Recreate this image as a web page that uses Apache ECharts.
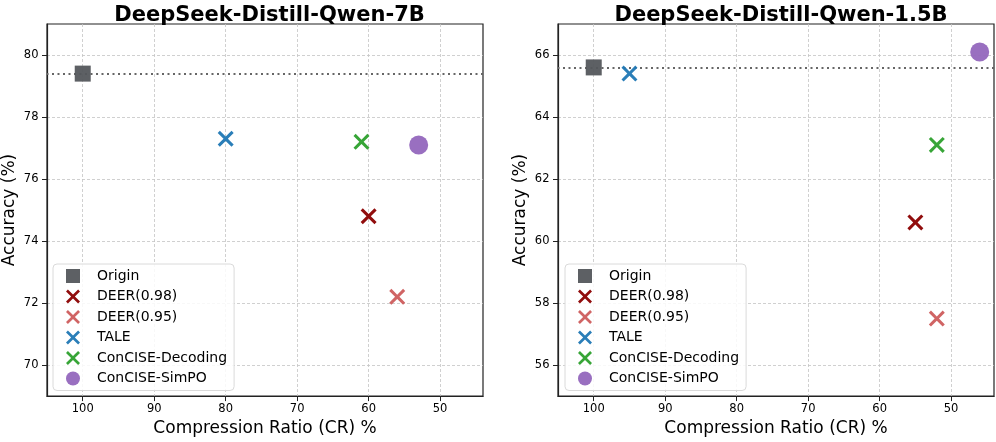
<!DOCTYPE html>
<html>
<head>
<meta charset="utf-8">
<script src="https://cdn.jsdelivr.net/npm/echarts@6/dist/echarts.min.js"></script>
<style>
html,body{margin:0;padding:0;background:#fff;}
#chart{width:996px;height:442px;}
</style>
</head>
<body>
<div id="chart"></div>
<script>
// ---- data ----
const titles = ['DeepSeek-Distill-Qwen-7B', 'DeepSeek-Distill-Qwen-1.5B'];
const methods = ['Origin', 'DEER(0.98)', 'DEER(0.95)', 'TALE', 'ConCISE-Decoding', 'ConCISE-SimPO'];
// [compression ratio %, accuracy %] per method
const data7B = {
  'Origin': [100, 79.4],
  'DEER(0.98)': [60, 74.8],
  'DEER(0.95)': [56, 72.2],
  'TALE': [80, 77.3],
  'ConCISE-Decoding': [61, 77.2],
  'ConCISE-SimPO': [53, 77.1]
};
const data15B = {
  'Origin': [100, 65.6],
  'DEER(0.98)': [55, 60.6],
  'DEER(0.95)': [52, 57.5],
  'TALE': [95, 65.4],
  'ConCISE-Decoding': [52, 63.1],
  'ConCISE-SimPO': [46, 66.1]
};
const xTicks = [100, 90, 80, 70, 60, 50];
const yTicks7B = [70, 72, 74, 76, 78, 80];
const yTicks15B = [56, 58, 60, 62, 64, 66];
const xRange = [44, 105];
const yRange7B = [69, 81];
const yRange15B = [55, 67];

// ---- styles ----
const colors = {
  'Origin': '#54575c',
  'DEER(0.98)': '#8b0000',
  'DEER(0.95)': '#cd5c5c',
  'TALE': '#1f77b4',
  'ConCISE-Decoding': '#2ca02c',
  'ConCISE-SimPO': '#9467bd'
};
const X_PATH = 'path://M0,1.35 L1.35,0 L5,3.65 L8.65,0 L10,1.35 L6.35,5 L10,8.65 L8.65,10 L5,6.35 L1.35,10 L0,8.65 L3.65,5 Z';
const SQ_PATH = 'path://M0,0 L10,0 L10,10 L0,10 Z';
const symbols = {
  'Origin': SQ_PATH,
  'DEER(0.98)': X_PATH,
  'DEER(0.95)': X_PATH,
  'TALE': X_PATH,
  'ConCISE-Decoding': X_PATH,
  'ConCISE-SimPO': 'circle'
};
const sizes = {
  'Origin': 16,
  'DEER(0.98)': 16,
  'DEER(0.95)': 16,
  'TALE': 16,
  'ConCISE-Decoding': 16,
  'ConCISE-SimPO': 19
};
const FONT = 'DejaVu Sans';

const grids = [
  {left: 46, top: 24, width: 437, height: 375},
  {left: 558, top: 24, width: 436, height: 375}
];
const datasets = [data7B, data15B];
const yTicksList = [yTicks7B, yTicks15B];
const yRanges = [yRange7B, yRange15B];

const option = {
  backgroundColor: '#fff',
  animation: false,
  textStyle: {fontFamily: FONT},
  title: grids.map((g, i) => ({
    text: titles[i],
    left: g.left + g.width / 2,
    textAlign: 'center',
    top: 0,
    textStyle: {fontFamily: FONT, fontWeight: 'bold', fontSize: 21, color: '#000'}
  })),
  grid: grids.map(g => ({
    left: g.left, top: g.top, width: g.width, height: g.height,
    show: true, borderColor: '#222', borderWidth: 1.2, backgroundColor: 'transparent'
  })),
  legend: grids.map((g, i) => ({
    orient: 'vertical',
    left: g.left + 7,
    top: 264,
    data: methods,
    itemWidth: 38,
    itemHeight: 14,
    itemGap: 6.5,
    padding: [5, 7, 5, 13],
    backgroundColor: 'rgba(255,255,255,0.85)',
    borderColor: '#dadada',
    borderWidth: 1,
    borderRadius: 4,
    textStyle: {fontFamily: FONT, fontSize: 14, color: '#000'},
    selectedMode: false
  })),
  xAxis: grids.map((g, i) => ({
    type: 'value',
    gridIndex: i,
    inverse: true,
    min: xRange[0],
    max: xRange[1],
    name: 'Compression Ratio (CR) %',
    nameLocation: 'middle',
    nameGap: 23,
    nameTextStyle: {fontFamily: FONT, fontSize: 17, color: '#000'},
    axisLine: {show: true, lineStyle: {color: '#222', width: 1.2}},
    axisTick: {show: true, inside: false, length: 5, customValues: xTicks, lineStyle: {color: '#222'}},
    axisLabel: {customValues: xTicks, fontFamily: FONT, fontSize: 11.5, color: '#000', margin: 7},
    splitLine: {show: true, lineStyle: {type: [3, 2], color: '#c4c4c4', width: 0.8}}
  })),
  yAxis: grids.map((g, i) => ({
    type: 'value',
    gridIndex: i,
    min: yRanges[i][0],
    max: yRanges[i][1],
    name: 'Accuracy (%)',
    nameLocation: 'middle',
    nameGap: 29,
    nameTextStyle: {fontFamily: FONT, fontSize: 17, color: '#000'},
    axisLine: {show: true, lineStyle: {color: '#222', width: 1.2}},
    axisTick: {show: true, inside: false, length: 5, customValues: yTicksList[i], lineStyle: {color: '#222'}},
    axisLabel: {customValues: yTicksList[i], fontFamily: FONT, fontSize: 11.5, color: '#000', margin: 8.5},
    splitLine: {show: true, lineStyle: {type: [3, 2], color: '#c4c4c4', width: 0.8}}
  })),
  series: []
};

datasets.forEach((ds, i) => {
  methods.forEach(m => {
    const s = {
      type: 'scatter',
      name: m,
      xAxisIndex: i,
      yAxisIndex: i,
      symbol: symbols[m],
      symbolSize: sizes[m],
      itemStyle: {color: colors[m], opacity: 0.95},
      data: [ds[m]],
      z: 3
    };
    if (m === 'Origin') {
      s.markLine = {
        silent: true,
        symbol: ['none', 'none'],
        label: {show: false},
        lineStyle: {type: [2, 3.5], color: '#666', width: 2},
        data: [{yAxis: ds[m][1]}],
        z: 2
      };
    }
    option.series.push(s);
  });
});

const chart = echarts.init(document.getElementById('chart'), null, {renderer: 'canvas'});
chart.setOption(option);
</script>
</body>
</html>
